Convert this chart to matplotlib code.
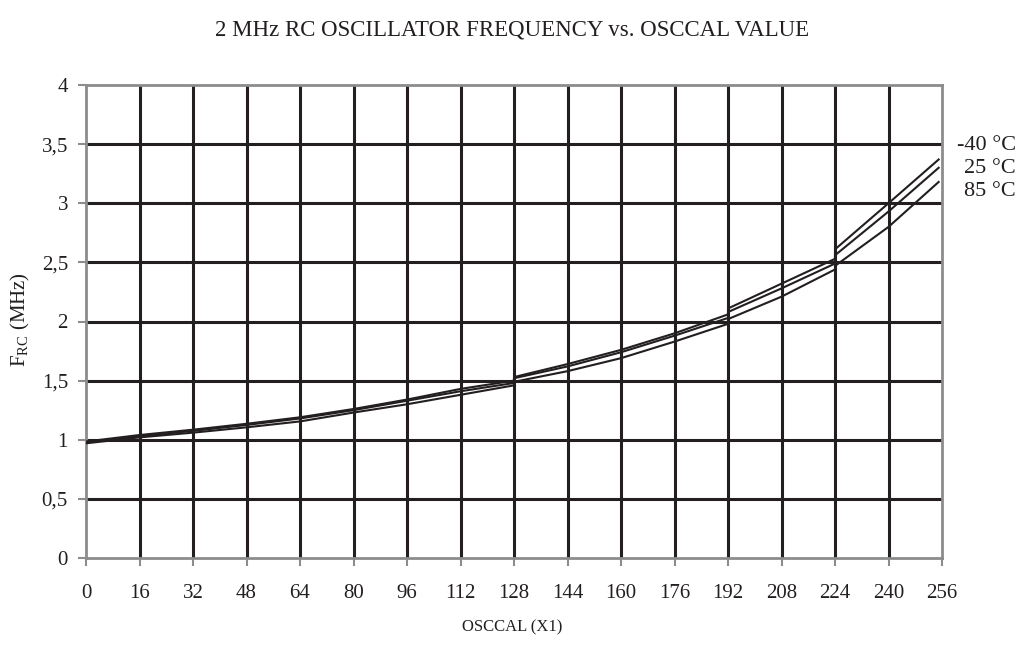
import numpy as np
import matplotlib
matplotlib.use("Agg")
from matplotlib import pyplot as plt

# OSCCAL values (duplicates mark the small jumps in the curves)
osccal = [0, 16, 32, 48, 64, 80, 96, 112, 128, 128, 144, 160, 176, 192, 192, 208, 224, 224, 240, 255]

# RC frequency in MHz for each temperature
f_m40 = [0.985, 1.04, 1.085, 1.135, 1.19, 1.26, 1.34, 1.43, 1.50, 1.53, 1.64, 1.76, 1.90, 2.06, 2.11, 2.32, 2.53, 2.61, 3.00, 3.37]
f_25 = [0.98, 1.03, 1.075, 1.125, 1.18, 1.25, 1.33, 1.41, 1.48, 1.52, 1.62, 1.74, 1.88, 2.03, 2.08, 2.28, 2.49, 2.56, 2.93, 3.30]
f_85 = [0.97, 1.02, 1.06, 1.105, 1.155, 1.23, 1.30, 1.38, 1.46, 1.49, 1.58, 1.69, 1.83, 1.98, 2.02, 2.21, 2.44, 2.47, 2.80, 3.18]

temp_labels = ["-40 °C", "25 °C", "85 °C"]
xticks = list(range(0, 257, 16))
yticks = [0, 0.5, 1, 1.5, 2, 2.5, 3, 3.5, 4]
ytick_labels = ["0", "0,5", "1", "1,5", "2", "2,5", "3", "3,5", "4"]

plt.rcParams['font.family'] = ['Liberation Serif', 'DejaVu Serif']
plt.rcParams['mathtext.fontset'] = 'custom'
plt.rcParams['mathtext.rm'] = 'Liberation Serif'

ink = '#231f20'
frame = '#8c8c8c'

fig = plt.figure(figsize=(10.24, 6.47), dpi=100)
ax = fig.add_axes([86/1024, 1-558/647, (942-86)/1024, (558-85)/647])

for xv in xticks[1:-1]:
    ax.axvline(xv, color=ink, lw=2.2, zorder=1)
for yv in yticks[1:-1]:
    ax.axhline(yv, color=ink, lw=2.2, zorder=1)

for f in [f_m40, f_25, f_85]:
    ax.plot(osccal, f, color=ink, lw=1.5, zorder=3)

ax.set_xlim(0, 256)
ax.set_ylim(0, 4)
ax.set_xticks(xticks)
ax.set_xticklabels([str(v) for v in xticks])
ax.set_yticks(yticks)
ax.set_yticklabels(ytick_labels)
ax.tick_params(direction='out', length=6, width=1.5, color=frame, labelcolor=ink,
               labelsize=15)
ax.tick_params(axis='x', pad=13)
ax.tick_params(axis='y', pad=7)
for s in ax.spines.values():
    s.set_color(frame)
    s.set_linewidth(2)

fig.text(0.5, 1-30/647, "2 MHz RC OSCILLATOR FREQUENCY vs. OSCCAL VALUE",
         ha='center', va='center', fontsize=16.5, color=ink)
fig.text(0.5, 1-627/647, "OSCCAL (X1)", ha='center', va='center', fontsize=12, color=ink)
fig.text(20/1024, 1-320/647, r"F$_{\rm RC}$ (MHz)", ha='center', va='center',
         rotation=90, fontsize=15, color=ink)

for lab, yp in zip(temp_labels, [145, 168, 192]):
    fig.text(1016/1024, 1-yp/647, lab, ha='right', va='center', fontsize=16, color=ink)

fig.savefig("out.png", dpi=100)
